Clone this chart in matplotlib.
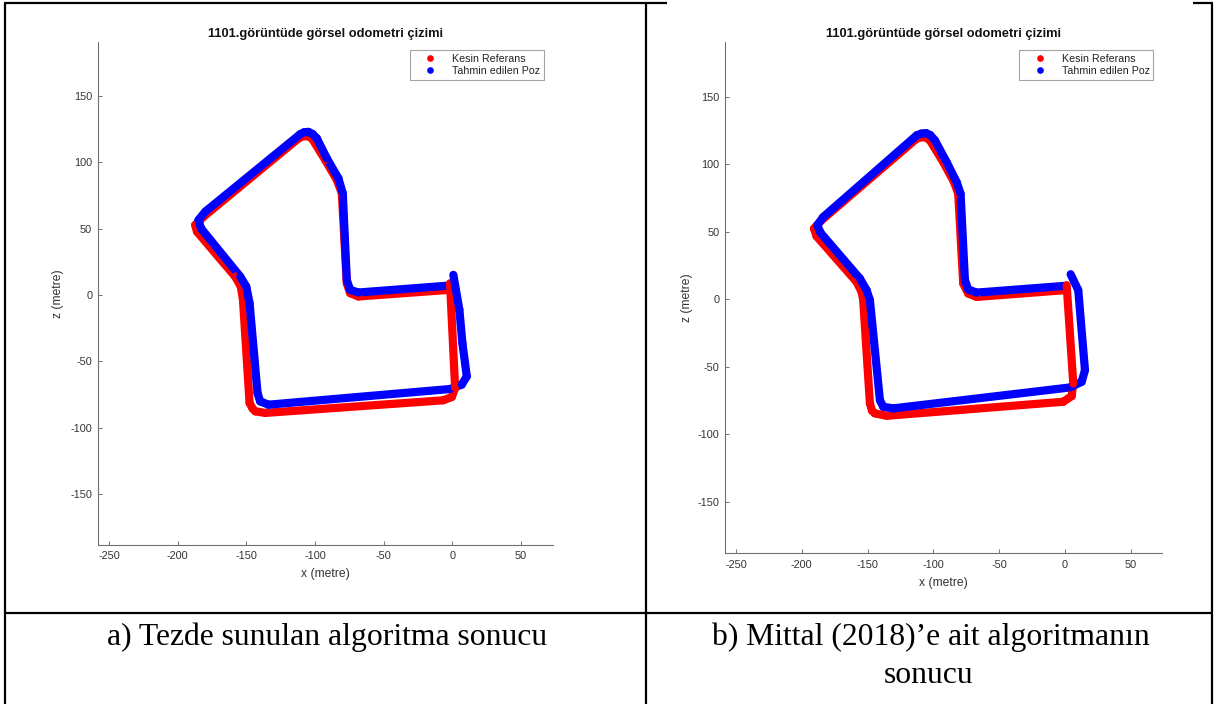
import numpy as np
import matplotlib
matplotlib.use("Agg")
import matplotlib.pyplot as plt
from matplotlib.lines import Line2D

# ---------------------------------------------------------------- data
TITLE = "1101.görüntüde görsel odometri çizimi"
LEGEND_LABELS = ["Kesin Referans", "Tahmin edilen Poz"]
X_LABEL = "x (metre)"
Z_LABEL = "z (metre)"
X_TICKS = [-250, -200, -150, -100, -50, 0, 50]
Z_TICKS = [-150, -100, -50, 0, 50, 100, 150]
X_LIM = (-258.3, 73.5)
Z_LIM = (-188.3, 190.6)
CAPTION_A = "a) Tezde sunulan algoritma sonucu"
CAPTION_B = "b) Mittal (2018)\u2019e ait algoritman\u0131n\nsonucu"

# panel a: ground truth and estimated trajectory (x, z in metres)
gt_a_x = [-2.2, -68.4, -74.5, -76.9, -80.5, -84.1, -92.6, -102.3, -105.0, -107.2, -109.8, -112.0,
          -181.2, -187.3, -186.0, -158.2, -154.1, -152.5, -147.7, -145.5, -143.6, -136.3,
          -6.6, -0.4, 2.0, -1.7]
gt_a_z = [3.9, -1.1, 1.4, 8.9, 76.6, 86.6, 101.7, 118.0, 119.5, 119.7, 119.3, 118.0,
          59.0, 52.8, 47.7, 13.9, 6.4, -3.6, -81.3, -85.5, -87.6, -88.8,
          -79.3, -76.8, -70.0, 8.9]
est_a_x = [-2.9, -68.4, -74.5, -76.9, -79.8, -83.0, -91.4, -98.7, -101.8, -104.8, -108.0, -110.8,
           -180.0, -184.9, -183.1, -154.5, -150.1, -147.7, -141.9, -140.0, -133.9,
           -1.7, 6.8, 10.5, 7.3, 5.1, 0.7]
est_a_z = [7.1, 1.9, 3.9, 11.4, 76.6, 87.9, 102.9, 118.0, 121.3, 122.9, 122.6, 121.2,
           62.8, 56.5, 50.3, 13.9, 6.4, -6.1, -73.8, -80.1, -82.6,
           -70.8, -67.5, -61.3, -36.2, -11.1, 15.2]

# panel b: ground truth and estimated trajectory (x, z in metres)
gt_b_x = [0.0, -67.1, -73.5, -77.3, -81.1, -84.3, -92.5, -102.6, -105.2, -107.7, -110.3, -112.7,
          -184.9, -190.7, -188.7, -158.3, -154.5, -153.3, -148.2, -146.6, -144.4, -135.5,
          -1.3, 5.1, 6.3, 1.3]
gt_b_z = [6.7, 1.7, 4.2, 11.6, 78.2, 86.8, 101.6, 117.7, 119.6, 120.1, 119.8, 119.0,
          58.5, 52.3, 46.6, 12.8, 5.4, -0.7, -77.2, -82.6, -84.6, -86.4,
          -76.0, -71.8, -62.4, 10.4]
est_b_x = [0.0, -67.1, -73.5, -76.0, -79.3, -82.3, -89.9, -98.8, -102.3, -105.6, -109.3, -112.7,
           -183.7, -188.2, -185.6, -155.8, -150.7, -148.2, -140.6, -138.1, -130.5,
           3.8, 12.7, 15.2, 10.1, 4.3]
est_b_z = [9.9, 4.9, 7.2, 14.1, 78.2, 86.8, 101.6, 117.7, 121.6, 123.1, 122.7, 121.4,
           60.9, 54.8, 49.1, 15.3, 6.7, -0.7, -74.8, -79.7, -80.9,
           -65.4, -61.2, -52.6, 6.7, 18.5]

# ---------------------------------------------------------------- style
W, H = 1223, 704
RED, BLUE = "#ff0000", "#0000ff"
AX_COLOR = "#707070"
TXT_COLOR = "#333333"
SANS = ["Liberation Sans", "DejaVu Sans"]
SERIF = ["Liberation Serif", "DejaVu Serif"]
TRACK_LW = 5.9

plt.rcParams["font.family"] = SANS
plt.rcParams["axes.unicode_minus"] = False

fig = plt.figure(figsize=(W / 100, H / 100), dpi=100)
fig.patch.set_facecolor("white")


def px_rect(x0, x1, ytop, ybot):
    return [x0 / W, 1 - ybot / H, (x1 - x0) / W, (ybot - ytop) / H]


def draw_track(ax, xs, zs, color, bias):
    """Draw a trajectory piecewise so later parts of the run lie on top."""
    xs = np.asarray(xs, float)
    zs = np.asarray(zs, float)
    seg = np.hypot(np.diff(xs), np.diff(zs))
    start = np.concatenate([[0.0], np.cumsum(seg)[:-1]]) / seg.sum()
    for i in range(len(seg)):
        ax.plot(xs[i:i + 2], zs[i:i + 2], color=color, lw=TRACK_LW,
                solid_capstyle="round", solid_joinstyle="round",
                zorder=2 + start[i] + bias)


def odometry_panel(rect, gt_x, gt_z, est_x, est_z, legend_right):
    ax = fig.add_axes(rect)
    draw_track(ax, gt_x, gt_z, RED, 0.0)
    draw_track(ax, est_x, est_z, BLUE, 0.02)

    ax.set_xlim(*X_LIM)
    ax.set_ylim(*Z_LIM)
    ax.set_xticks(X_TICKS)
    ax.set_yticks(Z_TICKS)
    for side in ("top", "right"):
        ax.spines[side].set_visible(False)
    for side in ("left", "bottom"):
        ax.spines[side].set_color(AX_COLOR)
        ax.spines[side].set_linewidth(0.8)
    ax.tick_params(direction="in", length=3, width=0.7, color=AX_COLOR,
                   labelcolor=TXT_COLOR, labelsize=7.8)
    ax.tick_params(axis="x", pad=4.5)
    ax.tick_params(axis="y", pad=4)

    ax.set_xlabel(X_LABEL, fontsize=8.7, color=TXT_COLOR)
    ax.set_ylabel(Z_LABEL, fontsize=8.7, color=TXT_COLOR)
    ax.xaxis.label.set_va("center")
    ax.yaxis.label.set_va("center")
    ax.xaxis.set_label_coords(0.5, -0.0577)
    ax.yaxis.set_label_coords(-0.087, 0.5)

    t = ax.set_title(TITLE, fontsize=9.3, fontweight="bold", color="#111111")
    t.set_va("center")
    t.set_y(1.019)

    handles = [Line2D([], [], ls="none", marker="o", ms=4.8, color=c,
                      markeredgewidth=0) for c in (RED, BLUE)]
    leg = ax.legend(handles, LEGEND_LABELS, loc="upper right",
                    bbox_to_anchor=(legend_right / W, 1 - 50 / H),
                    bbox_transform=fig.transFigure, fontsize=7.7,
                    frameon=True, fancybox=False, borderpad=0.35,
                    labelspacing=0.2, handlelength=3.1, handletextpad=0.5,
                    borderaxespad=0)
    leg.get_frame().set_edgecolor("#8c8c8c")
    leg.get_frame().set_linewidth(0.8)
    for txt in leg.get_texts():
        txt.set_color("#222222")
    leg.set_zorder(10)
    return ax


odometry_panel(px_rect(97.7, 553.3, 42, 545), gt_a_x, gt_a_z, est_a_x, est_a_z, 544)
odometry_panel(px_rect(725, 1161.7, 42, 553.3), gt_b_x, gt_b_z, est_b_x, est_b_z, 1153.3)

# ---------------------------------------------------------------- table frame
def hline(y, x0, x1, lw=1.6):
    fig.add_artist(Line2D([x0 / W, x1 / W], [1 - y / H, 1 - y / H],
                          transform=fig.transFigure, color="black", lw=lw,
                          solid_capstyle="butt"))


def vline(x, y0, y1, lw=1.6):
    fig.add_artist(Line2D([x / W, x / W], [1 - y0 / H, 1 - y1 / H],
                          transform=fig.transFigure, color="black", lw=lw,
                          solid_capstyle="butt"))


vline(4.5, 2.5, H)
vline(646, 2.5, H)
vline(1212, 2.5, H)
hline(3, 3.7, 667)
hline(3, 1193, 1212.8)
hline(613, 3.7, 1212.8)

# ---------------------------------------------------------------- captions
CAP_SIZE = 22.8
fig.text(327 / W, 1 - 645 / H, CAPTION_A, family=SERIF, fontsize=CAP_SIZE,
         ha="center", va="baseline", color="black")
line_b1, line_b2 = CAPTION_B.split("\n")
fig.text(931 / W, 1 - 645 / H, line_b1, family=SERIF, fontsize=CAP_SIZE,
         ha="center", va="baseline", color="black")
fig.text(929 / W, 1 - 683 / H, line_b2, family=SERIF, fontsize=CAP_SIZE,
         ha="center", va="baseline", color="black")

fig.savefig("out.png", dpi=100, facecolor="white")
